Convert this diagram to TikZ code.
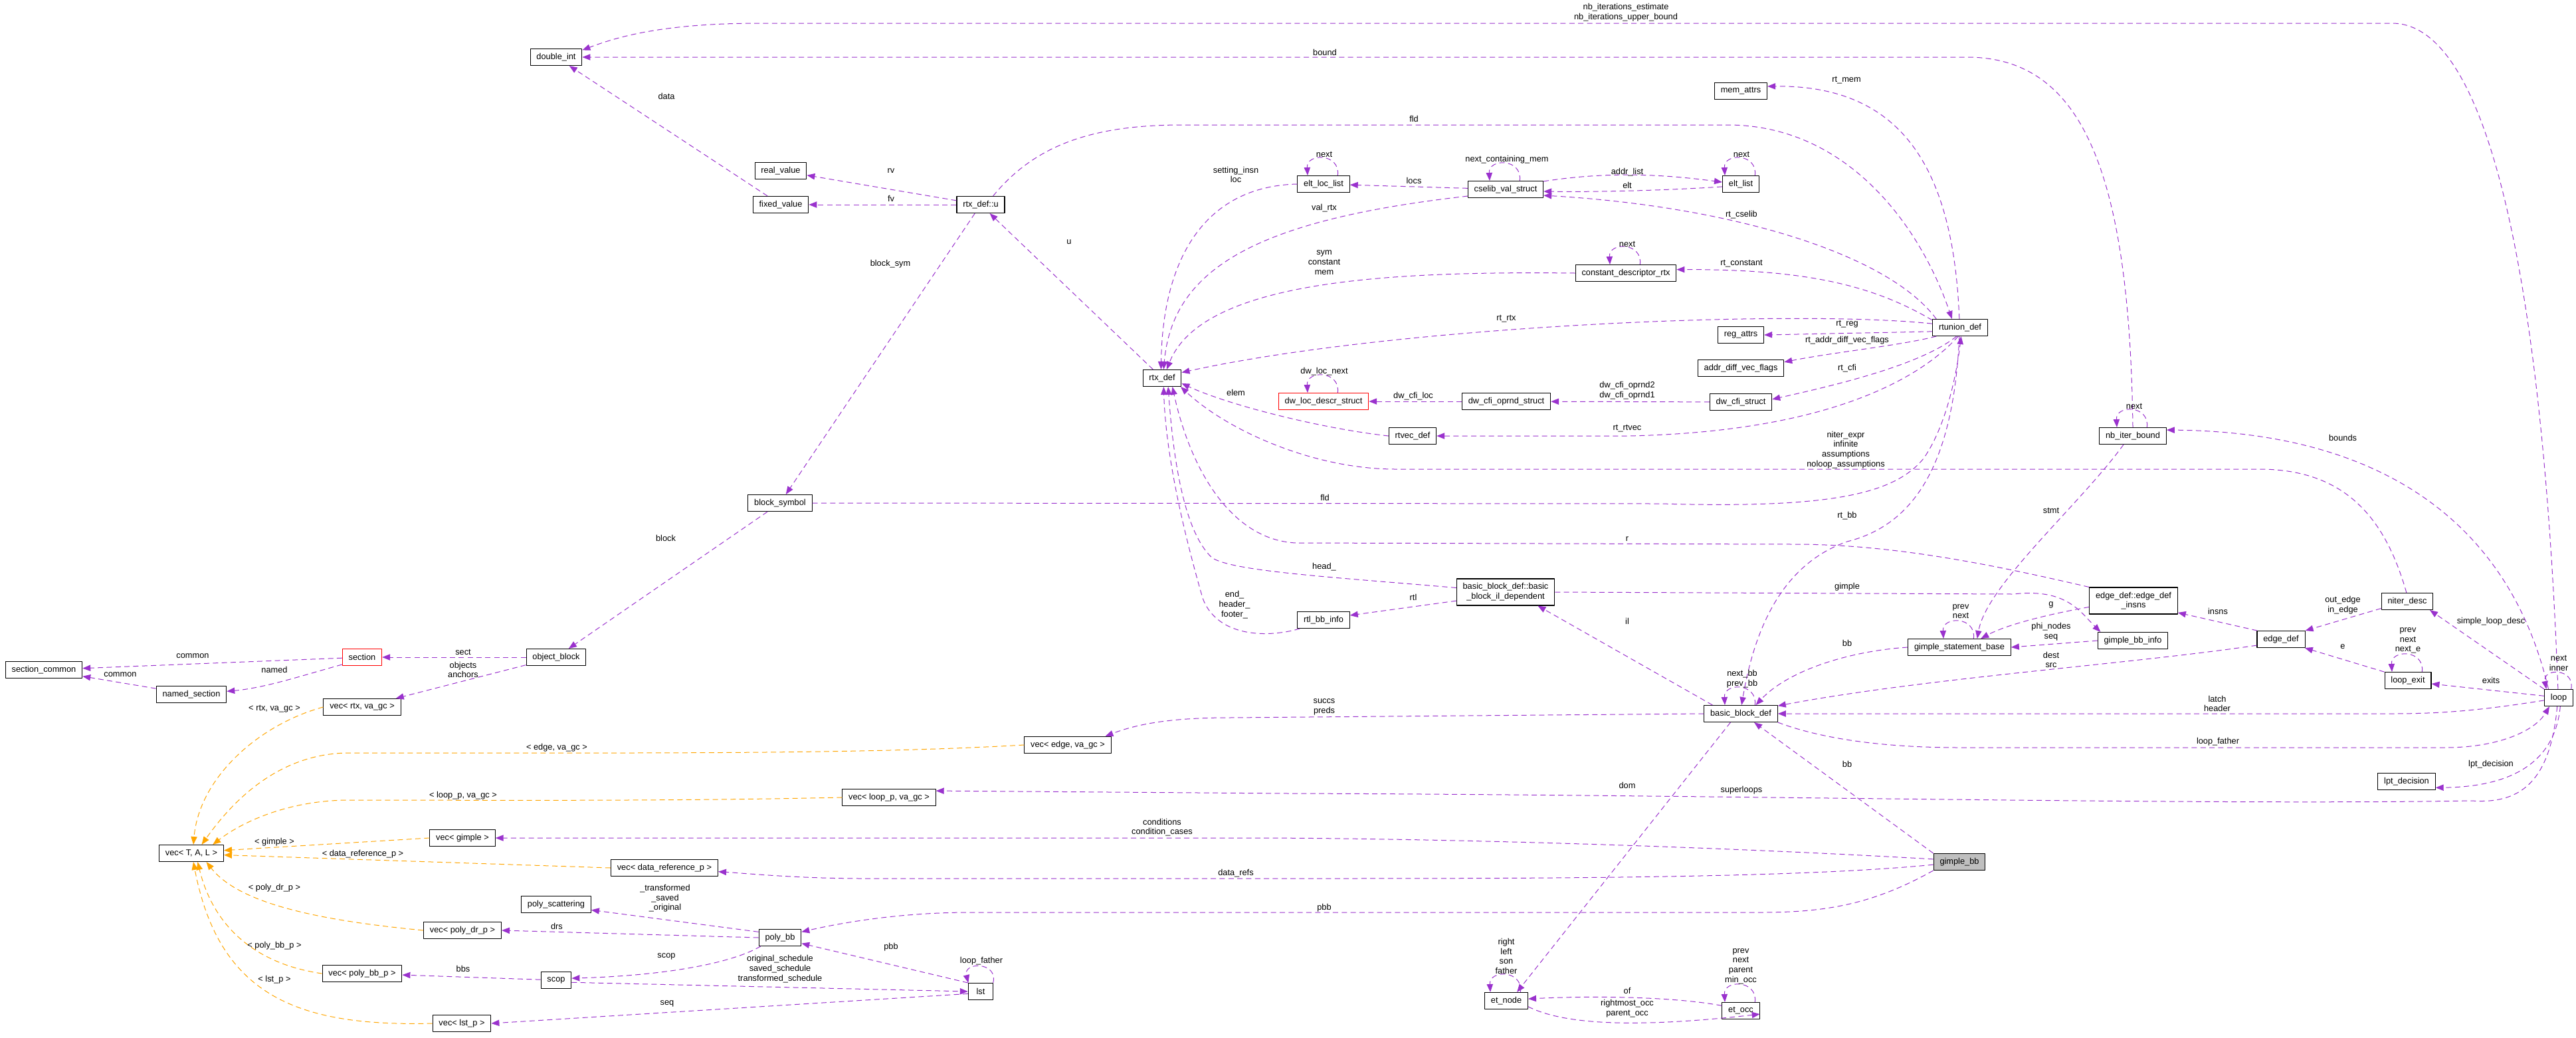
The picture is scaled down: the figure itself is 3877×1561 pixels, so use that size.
\documentclass[tikz,border=0pt]{standalone}
\usepackage{fontspec}
\setmainfont{Liberation Sans}
\usetikzlibrary{arrows.meta}
\definecolor{orchid}{HTML}{9A32CD}
\definecolor{tplorange}{HTML}{FFA500}
\tikzset{
  cls/.style={draw,line width=0.8pt,fill=white,minimum height=18.75pt,inner xsep=7pt,inner ysep=1pt,font=\fontsize{9.6}{11}\selectfont},
  cls2/.style={cls,align=center,minimum height=30pt},
  incomplete/.style={cls,draw=red},
  focus/.style={cls,fill=black!25},
  lbl/.style={inner sep=0pt,align=center,font=\fontsize{9.6}{11}\selectfont},
  rel/.style={draw=orchid,line width=0.75pt,dash pattern=on 6pt off 4pt,-{Triangle[length=9pt,width=7pt]}},
  tpl/.style={rel,draw=tplorange},
}
\begin{document}
\begin{tikzpicture}[x=0.75pt,y=-0.75pt,line join=round]
\useasboundingbox (0,0) rectangle (3877,1561);
%========================
\node[cls] (dint) at (837,86) {double\_int};
\node[cls] (realv) at (1175,257) {real\_value};
\node[cls] (fixedv) at (1175,308) {fixed\_value};
\node[cls] (rtxu) at (1476,308) {rtx\_def::u};
\node[cls] (memattrs) at (2620,137) {mem\_attrs};
\node[cls] (eltloc) at (1992,277) {elt\_loc\_list};
\node[cls] (cselib) at (2266,285) {cselib\_val\_struct};
\node[cls] (eltlist) at (2620,277) {elt\_list};
\node[cls] (cdrtx) at (2447,411) {constant\_descriptor\_rtx};
\node[cls] (regattrs) at (2620,504) {reg\_attrs};
\node[cls] (rtunion) at (2950,493) {rtunion\_def};
\node[cls] (rtxdef) at (1749,569) {rtx\_def};
\node[incomplete] (dwloc) at (1992,604) {dw\_loc\_descr\_struct};
\node[cls] (dwopnd) at (2267,604) {dw\_cfi\_oprnd\_struct};
\node[cls] (adv) at (2620,554) {addr\_diff\_vec\_flags};
\node[cls] (dwcfi) at (2620,605) {dw\_cfi\_struct};
\node[cls] (rtvec) at (2126,656) {rtvec\_def};
\node[cls] (nbiter) at (3210,656) {nb\_iter\_bound};
\node[cls] (blocksym) at (1174,757) {block\_symbol};
\node[cls2] (bbil) at (2266,891) {basic\_block\_def::basic\\\_block\_il\_dependent};
\node[cls] (rtlbb) at (1992,933) {rtl\_bb\_info};
\node[cls2] (edgeinsns) at (3211,904) {edge\_def::edge\_def\\\_insns};
\node[cls] (niter) at (3623,905) {niter\_desc};
\node[cls] (gsb) at (2949,974) {gimple\_statement\_base};
\node[cls] (gbbinfo) at (3210,964) {gimple\_bb\_info};
\node[cls] (edgedef) at (3433,962) {edge\_def};
\node[cls] (lexit) at (3624,1024) {loop\_exit};
\node[cls] (loop) at (3851,1050) {loop};
\node[incomplete] (section) at (545,989) {section};
\node[cls] (seccommon) at (66,1008) {section\_common};
\node[cls] (namedsec) at (288,1045) {named\_section};
\node[cls] (objblock) at (837,989) {object\_block};
\node[cls] (vecrtx) at (545,1064) {vec< rtx, va\_gc >};
\node[cls] (bbdef) at (2620,1074) {basic\_block\_def};
\node[cls] (vecedge) at (1607,1121) {vec< edge, va\_gc >};
\node[cls] (lpt) at (3622,1176) {lpt\_decision};
\node[cls] (vecloop) at (1338,1200) {vec< loop\_p, va\_gc >};
\node[cls] (vecgimple) at (696,1261) {vec< gimple >};
\node[cls] (vectal) at (288,1284) {vec< T, A, L >};
\node[focus] (gimplebb) at (2949,1297) {gimple\_bb};
\node[cls] (vecdr) at (1000,1306) {vec< data\_reference\_p >};
\node[cls] (polyscat) at (837,1361) {poly\_scattering};
\node[cls] (vecpdr) at (696,1400) {vec< poly\_dr\_p >};
\node[cls] (polybb) at (1174,1411) {poly\_bb};
\node[cls] (vecpbb) at (545,1465) {vec< poly\_bb\_p >};
\node[cls] (scop) at (837,1475) {scop};
\node[cls,minimum width=28pt] (lst) at (1476,1492) {lst};
\node[cls] (vecl) at (695,1540) {vec< lst\_p >};
\node[cls] (etnode) at (2267,1506) {et\_node};
\node[cls] (etocc) at (2620,1521) {et\_occ};
%========================
\draw[rel] (loop.95) .. controls (3830,500) and (3760,35) .. (3600,35) -- (1143,35) .. controls (1000,35) and (930,55) .. (dint.15);
\draw[rel] (nbiter.north) .. controls (3205,250) and (3130,86) .. (2960,86) -- (dint.east);
\draw[rel] (fixedv) -- (dint);
\draw[rel] (rtxu) -- (realv);
\draw[rel] (rtxu) -- (fixedv);
\draw[rel] (rtxdef) -- (rtxu);
\draw[rel] (rtxu) -- (blocksym);
\draw[rel] (blocksym) -- (objblock);
\draw[rel] (objblock) -- (section);
\draw[rel] (objblock) -- (vecrtx);
\draw[rel] (section) -- (seccommon);
\draw[rel] (section.200) .. controls (460,1015) and (400,1035) .. (namedsec.5);
\draw[rel] (namedsec) -- (seccommon);
\draw[rel] (rtxu.35) .. controls (1560,215) and (1650,188) .. (1780,188) -- (2600,188) .. controls (2780,188) and (2890,340) .. (rtunion.133);
\draw[rel] (rtunion.95) .. controls (2940,250) and (2860,128) .. (memattrs.10);
\draw[rel] (rtunion.160) .. controls (2840,380) and (2600,310) .. (cselib.-9);
\draw[rel] (rtunion.165) .. controls (2820,430) and (2720,405) .. (cdrtx.4);
\draw[rel] (rtunion.172) .. controls (2700,465) and (2100,490) .. (rtxdef.16);
\draw[rel] (rtunion.188) -- (regattrs.east);
\draw[rel] (rtunion.200) .. controls (2860,520) and (2760,530) .. (adv.8);
\draw[rel] (rtunion.-112) .. controls (2890,550) and (2760,580) .. (dwcfi.5);
\draw[rel] (rtunion.-102) .. controls (2890,570) and (2750,650) .. (2450,656) -- (rtvec.east);
\draw[rel] (rtunion.-95) .. controls (2940,700) and (2880,790) .. (2780,815) .. controls (2680,850) and (2640,950) .. (bbdef.85);
\draw[rel] (blocksym.east) -- (2500,758) .. controls (2750,765) and (2850,745) .. (2895,690) .. controls (2930,640) and (2945,560) .. (rtunion.-83);
\draw[rel] (cselib) -- (eltloc);
\draw[rel] (cselib.12) .. controls (2420,258) and (2500,262) .. (eltlist.174);
\draw[rel] (eltlist.-172) .. controls (2500,287) and (2400,289) .. (cselib.-3);
\draw[rel] (cselib.-170) .. controls (1900,330) and (1765,400) .. (rtxdef.80);
\draw[rel] (cdrtx.west) .. controls (2100,408) and (1810,420) .. (rtxdef.62);
\draw[rel] (eltloc.west) .. controls (1820,280) and (1750,380) .. (rtxdef.97);
\draw[rel] (dwcfi) -- (dwopnd);
\draw[rel] (dwopnd) -- (dwloc);
\draw[rel] (rtvec.west) .. controls (1990,645) and (1850,610) .. (rtxdef.-15);
\draw[rel] (niter.95) .. controls (3590,780) and (3530,706) .. (3400,706) -- (2100,706) .. controls (1980,706) and (1850,650) .. (rtxdef.-25);
\draw[rel] (edgeinsns.north west) .. controls (3000,850) and (2850,819) .. (2700,819) -- (1950,817) .. controls (1850,812) and (1790,700) .. (rtxdef.-40);
\draw[rel] (bbil.175) .. controls (2000,868) and (1860,860) .. (1825,840) .. controls (1780,800) and (1765,680) .. (rtxdef.-55);
\draw[rel] (rtlbb.200) .. controls (1900,962) and (1830,955) .. (1810,900) .. controls (1790,830) and (1755,700) .. (rtxdef.-80);
\draw[rel] (bbdef.163) -- (bbil.-23);
\draw[rel] (bbil.190) -- (rtlbb.10);
\draw[rel] (bbil.east) -- (3030,894) .. controls (3110,885) and (3130,920) .. (gbbinfo.165);
\draw[rel] (gbbinfo.west) -- (gsb.east);
\draw[rel] (edgeinsns.-172) .. controls (3080,925) and (3020,940) .. (gsb.22);
\draw[rel] (nbiter.-137) .. controls (3130,760) and (2990,880) .. (gsb.26);
\draw[rel] (gsb.west) .. controls (2780,980) and (2690,1010) .. (bbdef.30);
\draw[rel] (edgedef.-166) .. controls (3200,1000) and (2900,1020) .. (bbdef.12);
\draw[rel] (edgedef.160) -- (edgeinsns.-15);
\draw[rel] (niter.-165) -- (edgedef.north east);
\draw[rel] (lexit.160) -- (edgedef.-20);
\draw[rel] (bbdef.west) -- (1850,1080) .. controls (1760,1080) and (1710,1090) .. (vecedge.13);
\draw[rel] (bbdef.-140) -- (etnode.39);
\draw[rel] (etocc.165) .. controls (2520,1500) and (2400,1498) .. (etnode.5);
\draw[rel] (etnode.-15) .. controls (2360,1545) and (2480,1545) .. (etocc.-10);
\draw[rel] (loop.190) .. controls (3740,1068) and (3680,1074) .. (3600,1074) -- (bbdef.east);
\draw[rel] (bbdef.south east) .. controls (2750,1115) and (2850,1125) .. (2950,1125) -- (3680,1125) .. controls (3760,1125) and (3815,1100) .. (loop.-137);
\draw[rel] (loop.-80) .. controls (3846,1140) and (3790,1184) .. (lpt.-12);
\draw[rel] (loop.-100) .. controls (3838,1180) and (3790,1210) .. (3720,1205) .. controls (3300,1212) and (2600,1196) .. (1940,1194) -- (vecloop.8);
\draw[rel] (loop.173) -- (lexit.-8);
\draw[rel] (loop.north west) -- (niter.-21);
\draw[rel] (loop.140) .. controls (3780,800) and (3600,650) .. (nbiter.10);
\draw[rel] (gimplebb.174) .. controls (2600,1275) and (2200,1262) .. (1900,1261) -- (vecgimple.east);
\draw[rel] (gimplebb.186) .. controls (2700,1322) and (2300,1322) .. (1940,1322) -- (1300,1322) .. controls (1200,1322) and (1120,1314) .. (vecdr.-4);
\draw[rel] (gimplebb.south west) .. controls (2820,1360) and (2750,1373) .. (2650,1373) -- (1460,1373) .. controls (1350,1373) and (1260,1390) .. (polybb.15);
\draw[rel] (gimplebb.north west) -- (bbdef.-33);
\draw[rel] (polybb.165) -- (polyscat.-9);
\draw[rel] (polybb.west) -- (vecpdr.east);
\draw[rel] (polybb.-156) .. controls (1100,1450) and (1000,1468) .. (scop.7);
\draw[rel] (scop) -- (vecpbb);
\draw[rel] (scop.-8) -- (lst.west);
\draw[rel] (lst.north west) -- (polybb.-15);
\draw[rel] (lst.-170) -- (vecl.east);
% self references
\draw[rel] ([xshift=16pt]eltloc.north) .. controls +(4,-34) and +(-2,-34) .. ([xshift=-18pt]eltloc.north);
\draw[rel] ([xshift=16pt]cselib.north) .. controls +(4,-34) and +(-2,-34) .. ([xshift=-18pt]cselib.north);
\draw[rel] ([xshift=16pt]eltlist.north) .. controls +(4,-34) and +(-2,-34) .. ([xshift=-18pt]eltlist.north);
\draw[rel] ([xshift=16pt]cdrtx.north) .. controls +(4,-34) and +(-2,-34) .. ([xshift=-18pt]cdrtx.north);
\draw[rel] ([xshift=16pt]dwloc.north) .. controls +(4,-34) and +(-2,-34) .. ([xshift=-18pt]dwloc.north);
\draw[rel] ([xshift=16pt]nbiter.north) .. controls +(4,-34) and +(-2,-34) .. ([xshift=-18pt]nbiter.north);
\draw[rel] ([xshift=16pt]gsb.north) .. controls +(4,-34) and +(-2,-34) .. ([xshift=-18pt]gsb.north);
\draw[rel] ([xshift=16pt]bbdef.north) .. controls +(4,-34) and +(-2,-34) .. ([xshift=-18pt]bbdef.north);
\draw[rel] ([xshift=16pt]etnode.north) .. controls +(4,-34) and +(-2,-34) .. ([xshift=-18pt]etnode.north);
\draw[rel] ([xshift=16pt]etocc.north) .. controls +(4,-34) and +(-2,-34) .. ([xshift=-18pt]etocc.north);
\draw[rel] ([xshift=16pt]lexit.north) .. controls +(4,-34) and +(-2,-34) .. ([xshift=-18pt]lexit.north);
\draw[rel] ([xshift=14pt]lst.north) .. controls +(8,-32) and +(-8,-32) .. ([xshift=-14pt]lst.north);
\draw[rel] ([xshift=14pt]loop.north) .. controls +(6,-32) and +(-6,-32) .. ([xshift=-14pt]loop.north);
% templates
\draw[tpl] (vecrtx.west) .. controls (390,1090) and (300,1170) .. (vectal.77);
\draw[tpl] (vecedge.west) .. controls (1300,1135) and (1000,1133) .. (526,1133) .. controls (410,1133) and (340,1220) .. (vectal.40);
\draw[tpl] (vecloop.west) .. controls (1000,1206) and (700,1204) .. (526,1204) .. controls (430,1204) and (360,1240) .. (vectal.22);
\draw[tpl] (vecgimple.west) -- (vectal.5);
\draw[tpl] (vecdr.west) -- (vectal.-3);
\draw[tpl] (vecpdr.west) .. controls (480,1385) and (360,1360) .. (vectal.-30);
\draw[tpl] (vecpbb.west) .. controls (380,1450) and (320,1390) .. (vectal.-54);
\draw[tpl] (vecl.west) .. controls (450,1545) and (330,1500) .. (vectal.-77);
%========================
\node[lbl] (tnbit) at (2447,19) {nb\_iterations\_estimate\\nb\_iterations\_upper\_bound};
\node[lbl] (tbound) at (1994,79) {bound};
\node[lbl] (tdata) at (1003,145) {data};
\node[lbl] (trtmem) at (2779,121) {rt\_mem};
\node[lbl] (tfld) at (2128,179) {fld};
\node[lbl] (trv) at (1341,257) {rv};
\node[lbl] (tfv) at (1341,299) {fv};
\node[lbl] (tnext1) at (1993,232) {next};
\node[lbl] (tncm) at (2268,240) {next\_containing\_mem};
\node[lbl] (tnext2) at (2621,232) {next};
\node[lbl] (tsetting) at (1860,263) {setting\_insn\\loc};
\node[lbl] (taddr) at (2449,259) {addr\_list};
\node[lbl] (telt) at (2449,279) {elt};
\node[lbl] (tlocs) at (2128,272) {locs};
\node[lbl] (tvalrtx) at (1993,313) {val\_rtx};
\node[lbl] (tcselib) at (2621,323) {rt\_cselib};
\node[lbl] (tu) at (1609,364) {u};
\node[lbl] (tnext3) at (2449,367) {next};
\node[lbl] (tconst) at (2621,397) {rt\_constant};
\node[lbl] (tsym) at (1993,395) {sym\\constant\\mem};
\node[lbl] (tbsym) at (1340,397) {block\_sym};
\node[lbl] (trtrtx) at (2267,480) {rt\_rtx};
\node[lbl] (trtreg) at (2780,488) {rt\_reg};
\node[lbl] (tadv) at (2780,512) {rt\_addr\_diff\_vec\_flags};
\node[lbl] (trtcfi) at (2780,554) {rt\_cfi};
\node[lbl] (tdwnext) at (1993,559) {dw\_loc\_next};
\node[lbl] (topnd) at (2449,588) {dw\_cfi\_oprnd2\\dw\_cfi\_oprnd1};
\node[lbl] (tcfiloc) at (2127,596) {dw\_cfi\_loc};
\node[lbl] (telem) at (1860,591) {elem};
\node[lbl] (tnext4) at (3212,611) {next};
\node[lbl] (trtvec) at (2449,645) {rt\_rtvec};
\node[lbl] (tbounds) at (3526,659) {bounds};
\node[lbl] (tniter) at (2778,677) {niter\_expr\\infinite\\assumptions\\noloop\_assumptions};
\node[lbl] (tfld2) at (1994,749) {fld};
\node[lbl] (tstmt) at (3087,768) {stmt};
\node[lbl] (trtbb) at (2780,776) {rt\_bb};
\node[lbl] (tblock) at (1002,810) {block};
\node[lbl] (tr) at (2449,811) {r};
\node[lbl] (thead) at (1993,853) {head\_};
\node[lbl] (tgimple) at (2780,883) {gimple};
\node[lbl] (trtl) at (2127,899) {rtl};
\node[lbl] (tend) at (1858,910) {end\_\\header\_\\footer\_};
\node[lbl] (tedge) at (3526,911) {out\_edge\\in\_edge};
\node[lbl] (tg) at (3087,910) {g};
\node[lbl] (tprev1) at (2951,920) {prev\\next};
\node[lbl] (tinsns) at (3338,920) {insns};
\node[lbl] (til) at (2449,935) {il};
\node[lbl] (tsld) at (3749,935) {simple\_loop\_desc};
\node[lbl] (tphi) at (3087,951) {phi\_nodes\\seq};
\node[lbl] (tprev2) at (3624,964) {prev\\next\\next\_e};
\node[lbl] (tbb1) at (2780,968) {bb};
\node[lbl] (te) at (3526,973) {e};
\node[lbl] (tdest) at (3087,993) {dest\\src};
\node[lbl] (tcommon1) at (290,987) {common};
\node[lbl] (tsect) at (697,981) {sect};
\node[lbl] (tobj) at (697,1008) {objects\\anchors};
\node[lbl] (tnamed) at (413,1008) {named};
\node[lbl] (tcommon2) at (181,1015) {common};
\node[lbl] (tinner) at (3851,998) {next\\inner};
\node[lbl] (tnextbb) at (2622,1022) {next\_bb\\prev\_bb};
\node[lbl] (texits) at (3749,1024) {exits};
\node[lbl] (tlatch) at (3337,1059) {latch\\header};
\node[lbl] (tsuccs) at (1993,1064) {succs\\preds};
\node[lbl] (ttrtx) at (413,1067) {< rtx, va\_gc >};
\node[lbl] (tlfather1) at (3338,1116) {loop\_father};
\node[lbl] (ttedge) at (838,1125) {< edge, va\_gc >};
\node[lbl] (tbb2) at (2780,1150) {bb};
\node[lbl] (tlpt) at (3749,1150) {lpt\_decision};
\node[lbl] (tdom) at (2449,1182) {dom};
\node[lbl] (tsuper) at (2621,1189) {superloops};
\node[lbl] (ttloop) at (697,1197) {< loop\_p, va\_gc >};
\node[lbl] (tcond) at (1749,1245) {conditions\\condition\_cases};
\node[lbl] (ttgimple) at (413,1267) {< gimple >};
\node[lbl] (ttdr) at (546,1285) {< data\_reference\_p >};
\node[lbl] (tdatarefs) at (1860,1314) {data\_refs};
\node[lbl] (ttpdr) at (413,1336) {< poly\_dr\_p >};
\node[lbl] (tsched) at (1001,1352) {\_transformed\\\_saved\\\_original};
\node[lbl] (tpbb1) at (1993,1366) {pbb};
\node[lbl] (tdrs) at (838,1394) {drs};
\node[lbl] (tright) at (2267,1439) {right\\left\\son\\father};
\node[lbl] (tminocc) at (2620,1454) {prev\\next\\parent\\min\_occ};
\node[lbl] (ttpbb) at (413,1423) {< poly\_bb\_p >};
\node[lbl] (tpbb2) at (1341,1425) {pbb};
\node[lbl] (tscop) at (1003,1439) {scop};
\node[lbl] (tlfather2) at (1477,1446) {loop\_father};
\node[lbl] (tschedule) at (1174,1458) {original\_schedule\\saved\_schedule\\transformed\_schedule};
\node[lbl] (tbbs) at (697,1458) {bbs};
\node[lbl] (ttlst) at (413,1474) {< lst\_p >};
\node[lbl] (tof) at (2449,1491) {of};
\node[lbl] (trocc) at (2449,1518) {rightmost\_occ\\parent\_occ};
\node[lbl] (tseq) at (1004,1510) {seq};
%========================
\end{tikzpicture}
\end{document}
